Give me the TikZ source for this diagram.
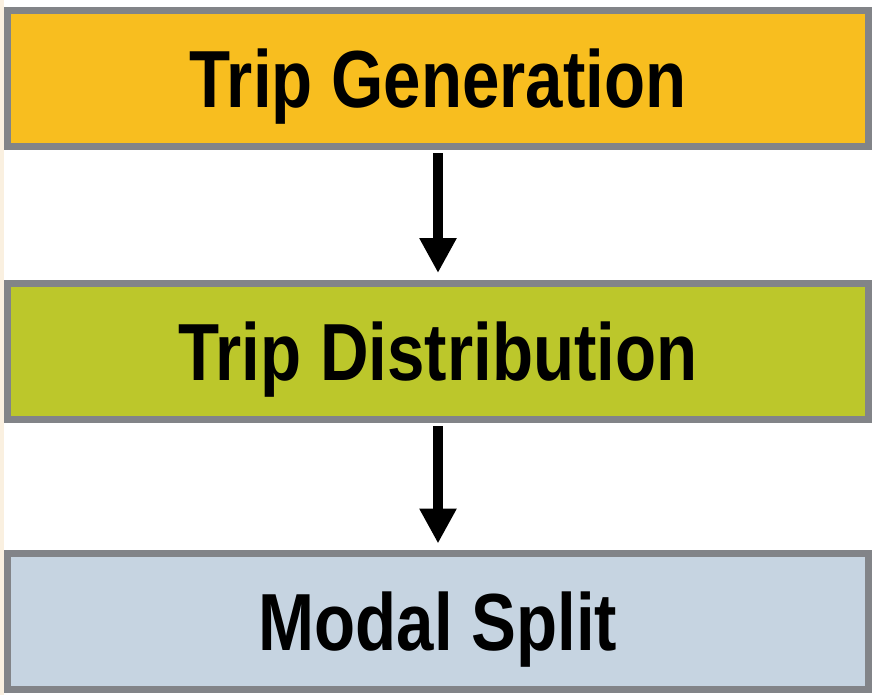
\documentclass[tikz,border=0pt]{standalone}
\usepackage{fontspec}
\newfontfamily\boxfont[FakeStretch=0.83]{Liberation Sans}
\usetikzlibrary{arrows.meta}
\definecolor{cream}{HTML}{FAF0E0}
\definecolor{bordergray}{HTML}{828488}
\definecolor{genorange}{HTML}{F8BE1F}
\definecolor{distgreen}{HTML}{BCC72B}
\definecolor{modalblue}{HTML}{C6D4E1}
\tikzset{
  stagebox/.style={draw=bordergray, line width=7pt, minimum width=861pt,
    minimum height=136pt, inner sep=0pt, text height=58pt, text depth=0pt,
    font=\boxfont\bfseries\fontsize{81pt}{81pt}\selectfont, text=black},
  flowarrow/.style={line width=10pt, -{Triangle[width=35pt,length=35pt]},
    shorten <=3.5pt, shorten >=6.5pt}
}
\begin{document}
\begin{tikzpicture}[x=1pt,y=-1pt]
\useasboundingbox (0,0) rectangle (880,695);
\fill[white] (0,0) rectangle (880,695);
\fill[cream] (0,0) rectangle (4,695);
\node[stagebox, fill=genorange] (gen) at (438,78.5) {Trip Generation};
\node[stagebox, fill=distgreen] (dist) at (438,351) {Trip Distribution};
\node[stagebox, fill=modalblue] (modal) at (438,621.5) {Modal Split};
\draw[flowarrow] (gen.south) -- (dist.north);
\draw[flowarrow] (dist.south) -- (modal.north);
\end{tikzpicture}
\end{document}
